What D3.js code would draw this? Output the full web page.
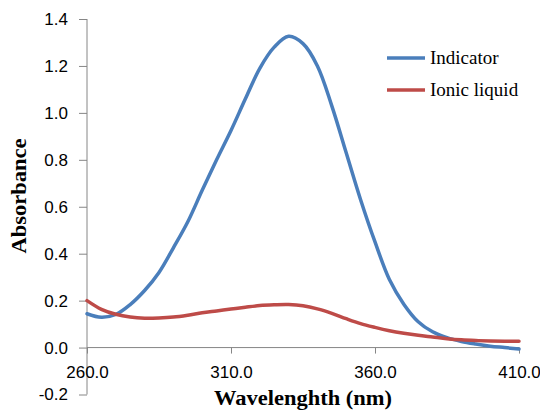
<!DOCTYPE html>
<html>
<head>
<meta charset="utf-8">
<script src="https://cdn.jsdelivr.net/npm/d3@7"></script>
<style>
  html, body { margin: 0; padding: 0; background: #fff; }
  svg { display: block; }
</style>
</head>
<body>
<script>
const wavelengths = [260,265,270,275,280,285,290,295,300,305,310,315,320,325,330,335,340,345,350,355,360,365,370,375,380,385,390,395,400,405,410];
const indicator = [0.144,0.129,0.141,0.183,0.243,0.320,0.425,0.536,0.670,0.800,0.925,1.060,1.190,1.280,1.326,1.295,1.200,1.030,0.830,0.630,0.450,0.290,0.185,0.110,0.067,0.042,0.026,0.015,0.006,0.000,-0.006];
const ionicLiquid = [0.200,0.163,0.142,0.130,0.125,0.126,0.130,0.138,0.148,0.156,0.164,0.172,0.179,0.182,0.183,0.178,0.165,0.146,0.123,0.102,0.086,0.072,0.061,0.052,0.045,0.038,0.033,0.030,0.028,0.027,0.027];
const xTicks = [260, 310, 360, 410];
const yTicks = [-0.2, 0, 0.2, 0.4, 0.6, 0.8, 1.0, 1.2, 1.4];
const seriesNames = ["Indicator", "Ionic liquid"];
const seriesColors = ["#4A7EBB", "#BE4B48"];

const W = 540, H = 414;
const svg = d3.select("body").append("svg").attr("width", W).attr("height", H);

const x = d3.scaleLinear().domain([260, 410]).range([87, 519]);
const y = d3.scaleLinear().domain([-0.2, 1.4]).range([394.5, 19]);
const axisColor = "#868686";
const fmt = d => d.toFixed(1);

// Y axis
const yAxis = svg.append("g").attr("transform", `translate(${x(260)},0)`)
  .call(d3.axisLeft(y).tickValues(yTicks).tickSize(8).tickPadding(11).tickFormat(fmt));
yAxis.select(".domain").attr("stroke", axisColor).attr("d", `M0,${y(1.4)}V${y(-0.2)}`);
yAxis.selectAll(".tick line").attr("stroke", axisColor);
yAxis.selectAll(".tick text").attr("font-family", "Liberation Sans, Arial, sans-serif").attr("font-size", 17).attr("fill", "#000");

// X axis at y=0
const xAxis = svg.append("g").attr("transform", `translate(0,${y(0)})`)
  .call(d3.axisBottom(x).tickValues(xTicks).tickSize(6).tickPadding(12).tickFormat(fmt));
xAxis.select(".domain").attr("stroke", axisColor).attr("d", `M${x(260)},0H${x(410)}`);
xAxis.selectAll(".tick line").attr("stroke", axisColor);
xAxis.selectAll(".tick text").attr("font-family", "Liberation Sans, Arial, sans-serif").attr("font-size", 17).attr("fill", "#000");

// Lines
const data = [indicator, ionicLiquid];
const line = d3.line().x((d, i) => x(wavelengths[i])).y(d => y(d)).curve(d3.curveCatmullRom.alpha(0.5));
[0, 1].forEach(k => {
  svg.append("path").datum(data[k]).attr("d", line)
    .attr("fill", "none").attr("stroke", seriesColors[k]).attr("stroke-width", 3.5)
    .attr("stroke-linejoin", "round").attr("stroke-linecap", "round");
});

// Legend
const legendY = [58, 90];
seriesNames.forEach((name, k) => {
  svg.append("line").attr("x1", 387).attr("x2", 425).attr("y1", legendY[k]).attr("y2", legendY[k])
    .attr("stroke", seriesColors[k]).attr("stroke-width", 3.5);
  svg.append("text").attr("x", 430).attr("y", legendY[k] + 6)
    .attr("font-family", "Liberation Serif, Times New Roman, serif").attr("font-size", 19)
    .attr("fill", "#000").text(name);
});

// Axis titles
svg.append("text").attr("x", 303).attr("y", 405).attr("text-anchor", "middle")
  .attr("font-family", "Liberation Serif, Times New Roman, serif").attr("font-weight", "bold")
  .attr("font-size", 20).attr("textLength", 178).attr("lengthAdjust", "spacingAndGlyphs")
  .text("Wavelenghth (nm)");
svg.append("text").attr("transform", "translate(26,196) rotate(-90)").attr("text-anchor", "middle")
  .attr("font-family", "Liberation Serif, Times New Roman, serif").attr("font-weight", "bold")
  .attr("font-size", 20).attr("textLength", 115).attr("lengthAdjust", "spacingAndGlyphs")
  .text("Absorbance");
</script>
</body>
</html>
